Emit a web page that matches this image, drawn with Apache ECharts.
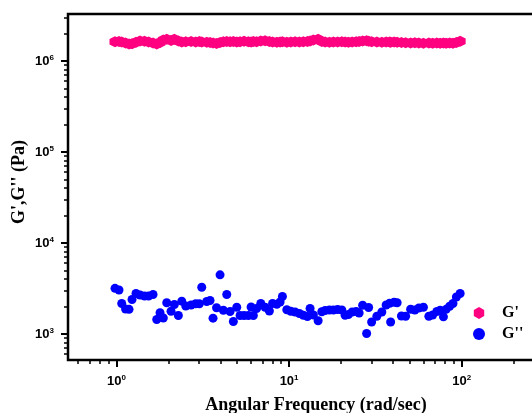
<!DOCTYPE html>
<html><head><meta charset="utf-8">
<script src="https://cdn.jsdelivr.net/npm/echarts@6/dist/echarts.min.js"></script>
<style>html,body{margin:0;padding:0;background:#fff}#c{width:532px;height:413px}</style>
</head><body><div id="c"></div>
<script>
// ---- data ----
const freq = [0.980,1.034,1.072,1.128,1.182,1.230,1.297,1.368,1.453,1.533,
  1.628,1.710,1.787,1.867,1.954,2.070,2.163,2.282,2.388,2.519,
  2.704,2.878,3.020,3.118,3.333,3.483,3.625,3.799,3.981,4.160,
  4.353,4.550,4.754,4.975,5.200,5.485,5.809,6.022,6.209,6.481,
  6.854,7.259,7.687,8.023,8.487,8.867,9.146,9.698,10.23,10.83,
  11.47,12.10,12.77,13.23,13.83,14.73,15.47,16.17,17.13,18.06,
  19.11,20.21,21.12,22.07,23.19,24.46,25.46,26.68,28.14,28.90,
  30.08,32.25,34.47,36.50,38.24,38.76,40.61,42.27,44.77,47.36,
  50.61,53.54,56.48,60.05,64.55,67.89,71.80,75.04,78.42,81.30,
  85.19,89.04,93.18,98.0];
const gPrime = [1.63e6,1.64e6,1.62e6,1.58e6,1.54e6,1.55e6,1.61e6,1.66e6,1.65e6,1.62e6,
  1.58e6,1.54e6,1.60e6,1.70e6,1.73e6,1.68e6,1.73e6,1.66e6,1.62e6,1.63e6,
  1.64e6,1.62e6,1.64e6,1.62e6,1.61e6,1.60e6,1.58e6,1.56e6,1.60e6,1.63e6,
  1.64e6,1.63e6,1.64e6,1.62e6,1.63e6,1.65e6,1.63e6,1.62e6,1.64e6,1.63e6,
  1.66e6,1.67e6,1.64e6,1.62e6,1.61e6,1.62e6,1.63e6,1.61e6,1.62e6,1.63e6,
  1.62e6,1.63e6,1.64e6,1.66e6,1.70e6,1.73e6,1.64e6,1.62e6,1.61e6,1.62e6,
  1.62e6,1.63e6,1.62e6,1.61e6,1.62e6,1.63e6,1.64e6,1.66e6,1.67e6,1.65e6,
  1.63e6,1.62e6,1.61e6,1.62e6,1.62e6,1.61e6,1.62e6,1.61e6,1.60e6,1.59e6,
  1.58e6,1.59e6,1.58e6,1.57e6,1.58e6,1.57e6,1.58e6,1.57e6,1.58e6,1.57e6,
  1.58e6,1.57e6,1.60e6,1.65e6];
const gDoublePrime = [3178,3044,2164,1883,1868,2394,2787,2683,2616,2616,
  2717,1443,1714,1499,2208,1781,2109,1597,2294,2031,
  2083,2153,2153,3260,2276,2334,1492,1941,4472,1826,
  2717,1767,1372,1970,1597,1597,1597,1980,1597,1907,
  2164,1970,1789,2164,2120,2247,2583,1845,1781,1745,
  1680,1609,1557,1907,1617,1400,1758,1813,1836,1836,
  1859,1836,1609,1638,1745,1767,1701,2073,1013,1956,
  1355,1569,1745,2083,2175,1355,2236,2208,1577,1565,
  1873,1836,1931,1970,1565,1617,1767,1826,1545,1868,
  2016,2164,2551,2787];
const seriesNames = ["G'", "G''"];
const xMajorTicks = [1, 10, 100];
const xMinorTicks = [0.6,0.7,0.8,0.9,2,3,4,5,6,7,8,9,20,30,40,50,60,70,80,90,200];
const yMajorTicks = [1e3, 1e4, 1e5, 1e6];
const yMinorTicks = [600,700,800,900,2e3,3e3,4e3,5e3,6e3,7e3,8e3,9e3,
  2e4,3e4,4e4,5e4,6e4,7e4,8e4,9e4,2e5,3e5,4e5,5e5,6e5,7e5,8e5,9e5,2e6,3e6];
const xRange = [0.5234, 300];
const yRange = [518, 3.285e6];
const xTitle = 'Angular Frequency (rad/sec)';
const yTitle = "G',G'' (Pa)";

// ---- styling ----
const sans = '"Liberation Sans", Arial, sans-serif';
const serif = '"Liberation Serif", "Times New Roman", serif';
const hexagon = 'path://M0,-10L8.66,-5L8.66,5L0,10L-8.66,5L-8.66,-5Z';
const labelRich = {
  b: {fontFamily: sans, fontWeight: 'bold', fontSize: 13, color: '#000'},
  s: {fontFamily: sans, fontWeight: 'bold', fontSize: 8, color: '#000', padding: [0, 0, 7, 0]}
};
const fmt = v => '{b|10}{s|' + Math.round(Math.log10(v)) + '}';
const tickStyle = {color: '#000', width: 2};

function majorAxis(range, ticks, pos, margin) {
  return {type: 'log', min: range[0], max: range[1], position: pos,
    axisLine: {show: false}, splitLine: {show: false},
    axisTick: {show: true, inside: false, length: 7, lineStyle: tickStyle, customValues: ticks},
    axisLabel: {show: true, customValues: ticks, formatter: fmt, rich: labelRich, margin: margin}};
}
function minorAxis(range, ticks, pos) {
  return {type: 'log', min: range[0], max: range[1], position: pos,
    axisLine: {show: false}, splitLine: {show: false},
    axisTick: {show: true, inside: false, length: 4, lineStyle: {color: '#000', width: 1.5}, customValues: ticks},
    axisLabel: {show: false}};
}

const chart = echarts.init(document.getElementById('c'), null, {renderer: 'canvas'});
chart.setOption({
  animation: false,
  backgroundColor: '#fff',
  grid: {left: 68, top: 14, width: 476, height: 346, show: true, borderColor: '#000', borderWidth: 2.5,
         containLabel: false, outerBoundsMode: 'none'},
  xAxis: [majorAxis(xRange, xMajorTicks, 'bottom', 14), minorAxis(xRange, xMinorTicks, 'bottom')],
  yAxis: [majorAxis(yRange, yMajorTicks, 'left', 14), minorAxis(yRange, yMinorTicks, 'left')],
  legend: {
    left: 473, top: 305, orient: 'vertical', padding: 0, itemWidth: 36, itemHeight: 12, itemGap: 5,
    textStyle: {fontFamily: serif, fontWeight: 'bold', fontSize: 16, color: '#000'},
    data: [{name: seriesNames[0], icon: hexagon}, {name: seriesNames[1], icon: 'circle'}]
  },
  series: [
    {name: seriesNames[0], type: 'scatter', xAxisIndex: 0, yAxisIndex: 0,
     data: freq.map((f, i) => [f, gPrime[i]]), symbol: hexagon, symbolSize: 11,
     itemStyle: {color: '#FF0080', opacity: 1}},
    {name: seriesNames[1], type: 'scatter', xAxisIndex: 0, yAxisIndex: 0,
     data: freq.map((f, i) => [f, gDoublePrime[i]]), symbol: 'circle', symbolSize: 9,
     itemStyle: {color: '#0000FF', opacity: 1}}
  ],
  graphic: [
    {type: 'text', x: 19, y: 182, rotation: Math.PI / 2,
     style: {text: yTitle, font: 'bold 18px ' + serif, align: 'center', verticalAlign: 'middle', fill: '#000'}},
    {type: 'text', x: 316, y: 405,
     style: {text: xTitle, font: 'bold 18px ' + serif, align: 'center', verticalAlign: 'middle', fill: '#000'}}
  ]
});
</script></body></html>
